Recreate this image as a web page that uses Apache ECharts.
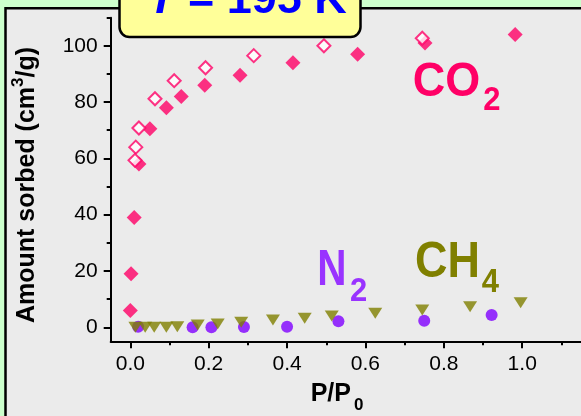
<!DOCTYPE html>
<html><head><meta charset="utf-8">
<script src="https://cdn.jsdelivr.net/npm/echarts@6/dist/echarts.min.js"></script>
<style>html,body{margin:0;padding:0;background:#ccffcc}#c{width:581px;height:416px}</style>
</head><body><div id="c"></div>
<script>
// ---- data ----
const co2Ads = [[0.0,6],[0.002,19],[0.01,39],[0.022,58],[0.05,70.5],[0.092,78],[0.13,82],[0.19,86],[0.28,89.5],[0.415,94],[0.58,97],[0.752,101],[0.982,104]];
const co2Des = [[0.745,102.7],[0.494,100],[0.315,96.5],[0.192,92.2],[0.112,87.6],[0.063,81.2],[0.022,70.8],[0.014,64],[0.012,59.3]];
const n2Pts = [[0.02,0.2],[0.159,0],[0.207,0],[0.29,0.1],[0.40,0.2],[0.531,2.1],[0.75,2.3],[0.922,4.4]];
const ch4Pts = [[0.013,0],[0.038,0],[0.061,0],[0.092,0],[0.12,0.2],[0.172,0.8],[0.223,1.2],[0.283,1.8],[0.364,2.6],[0.445,3.2],[0.514,4.0],[0.625,5.0],[0.745,6.1],[0.867,7.3],[0.996,8.7]];
const xMajor = [0, 0.2, 0.4, 0.6, 0.8, 1.0];
const xMinor = [0.1, 0.3, 0.5, 0.7, 0.9, 1.1];
const yMajor = [0, 20, 40, 60, 80, 100];
const yMinor = [10, 30, 50, 70, 90, 110];

const FONT = "'Liberation Sans', Arial, Helvetica, sans-serif";
const chart = echarts.init(document.getElementById('c'), null, {renderer: 'canvas'});

const lineOn = {show: true, onZero: false, lineStyle: {color: '#000', width: 2}};
const lineOff = {show: false, onZero: false};

chart.setOption({
  backgroundColor: '#ccffcc',
  animation: false,
  grid: {left: 110.7, top: 17.65, width: 487.8, height: 323.7},
  xAxis: [
    {type: 'value', min: -0.05, max: 1.15, position: 'bottom', axisLine: lineOn, splitLine: {show: false},
      axisTick: {show: true, inside: false, length: 7, lineStyle: {color: '#000', width: 2}, customValues: xMajor},
      axisLabel: {show: true, customValues: xMajor, margin: 12, color: '#000', fontSize: 21, fontFamily: FONT,
        formatter: v => v.toFixed(1)}},
    {type: 'value', min: -0.05, max: 1.15, position: 'bottom', axisLine: lineOff, splitLine: {show: false},
      axisTick: {show: true, inside: false, length: 4, lineStyle: {color: '#000', width: 2}, customValues: xMinor},
      axisLabel: {show: false}}
  ],
  yAxis: [
    {type: 'value', min: -5, max: 110, position: 'left', axisLine: lineOn, splitLine: {show: false},
      axisTick: {show: true, inside: false, length: 7, lineStyle: {color: '#000', width: 2}, customValues: yMajor},
      axisLabel: {show: true, customValues: yMajor, margin: 13, color: '#000', fontSize: 21, fontFamily: FONT}},
    {type: 'value', min: -5, max: 110, position: 'left', axisLine: lineOff, splitLine: {show: false},
      axisTick: {show: true, inside: false, length: 4, lineStyle: {color: '#000', width: 2}, customValues: yMinor},
      axisLabel: {show: false}}
  ],
  series: [
    {type: 'scatter', name: 'CO2 ads', data: co2Ads, symbol: 'diamond', symbolSize: 15,
      itemStyle: {color: '#ff0066'}},
    {type: 'scatter', name: 'CO2 des', data: co2Des, symbol: 'diamond', symbolSize: 13,
      itemStyle: {color: '#ffffff', borderColor: '#ff0066', borderWidth: 2}},
    {type: 'scatter', name: 'N2', data: n2Pts, symbol: 'circle', symbolSize: 12,
      itemStyle: {color: '#8000ff'}},
    {type: 'scatter', name: 'CH4', data: ch4Pts, symbol: 'triangle', symbolRotate: 180, symbolSize: [14, 11],
      itemStyle: {color: '#808000'}}
  ],
  graphic: [
    {type: 'rect', z: -100, silent: true, shape: {x: 5.5, y: 8.3, width: 800, height: 600},
      style: {fill: '#ebebeb', stroke: '#000', lineWidth: 2.5}},
    {type: 'rect', z: 100, silent: true, shape: {x: 119.5, y: -30, width: 241, height: 67, r: 10},
      style: {fill: '#ffff99', stroke: '#000', lineWidth: 2.5}},
    {type: 'text', z: 101, silent: true, x: 148, y: 1,
      style: {text: '{t|T} = 195 K', align: 'left', verticalAlign: 'middle',
        fill: '#0000ff', font: 'bold 45px ' + FONT,
        rich: {t: {fontStyle: 'italic', fontWeight: 'bold', fontSize: 45, fontFamily: FONT, fill: '#0000ff'}}}},
    // y axis title
    {type: 'text', z: 50, silent: true, x: 27.5, y: 185, rotation: Math.PI / 2,
      style: {text: '{m|Amount sorbed (cm}{s|3}{m|/g)}', align: 'center', verticalAlign: 'middle',
        rich: {
          m: {fontSize: 25, fontWeight: 'bold', fontFamily: FONT, fill: '#000', lineHeight: 35, verticalAlign: 'middle'},
          s: {fontSize: 17, fontWeight: 'bold', fontFamily: FONT, fill: '#000', lineHeight: 8, verticalAlign: 'top'}
        }}},
    // x axis title
    {type: 'text', z: 50, silent: true, x: 310.7, y: 394.5,
      style: {text: 'P/P', align: 'left', verticalAlign: 'middle', font: 'bold 25px ' + FONT, fill: '#000'}},
    {type: 'text', z: 50, silent: true, x: 354, y: 405.5,
      style: {text: '0', align: 'left', verticalAlign: 'middle', font: 'bold 17px ' + FONT, fill: '#000'}},
    // CO2 label
    {type: 'text', z: 50, silent: true, x: 412.7, y: 82.5, scaleY: 1.08,
      style: {text: 'CO', align: 'left', verticalAlign: 'middle', font: 'bold 45px ' + FONT, fill: '#ff0066'}},
    {type: 'text', z: 50, silent: true, x: 483.3, y: 101, scaleY: 1.05,
      style: {text: '2', align: 'left', verticalAlign: 'middle', font: 'bold 31px ' + FONT, fill: '#ff0066'}},
    // N2 label
    {type: 'text', z: 50, silent: true, x: 317.3, y: 271.7, scaleX: 0.9, scaleY: 1.1,
      style: {text: 'N', align: 'left', verticalAlign: 'middle', font: 'bold 45px ' + FONT, fill: '#9933ff'}},
    {type: 'text', z: 50, silent: true, x: 350, y: 291.7, scaleY: 1.05,
      style: {text: '2', align: 'left', verticalAlign: 'middle', font: 'bold 31px ' + FONT, fill: '#9933ff'}},
    // CH4 label
    {type: 'text', z: 50, silent: true, x: 415, y: 263.8, scaleY: 1.1,
      style: {text: 'CH', align: 'left', verticalAlign: 'middle', font: 'bold 45px ' + FONT, fill: '#808000'}},
    {type: 'text', z: 50, silent: true, x: 481.7, y: 283, scaleY: 1.05,
      style: {text: '4', align: 'left', verticalAlign: 'middle', font: 'bold 31px ' + FONT, fill: '#808000'}}
  ]
});
</script></body></html>
